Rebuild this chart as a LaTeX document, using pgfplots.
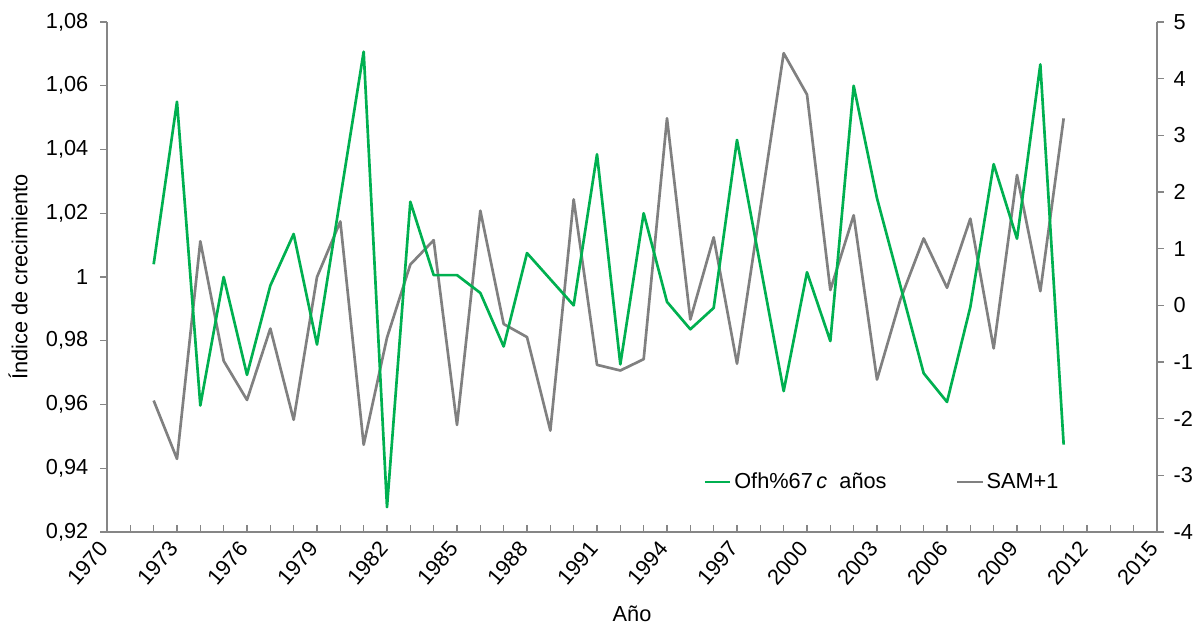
\documentclass[border=0pt]{standalone}
\usepackage{fontspec}
\setmainfont{Liberation Sans}
\usepackage{pgfplots}
\usepackage{pgfplotstable}
\pgfplotsset{compat=1.18}
\definecolor{sgreen}{RGB}{0,176,80}
\definecolor{sgray}{RGB}{128,128,128}
\definecolor{axgray}{RGB}{134,134,134}
\newcommand{\lblfont}{\fontsize{16.3}{19}\selectfont}

\pgfplotstableread{
year ofh
1972 1.004
1973 1.055
1974 0.9597
1975 1.000
1976 0.9693
1977 0.9973
1978 1.0135
1979 0.9788
1980 1.0248
1981 1.0707
1982 0.9278
1983 1.0236
1984 1.0006
1985 1.0006
1986 0.995
1987 0.9782
1988 1.0075
1989 0.9993
1990 0.9911
1991 1.0385
1992 0.9726
1993 1.020
1994 0.9922
1995 0.9836
1996 0.9903
1997 1.043
1998 1.0036
1999 0.9642
2000 1.0015
2001 0.9799
2002 1.060
2003 1.0247
2004 0.9973
2005 0.9698
2006 0.9608
2007 0.9906
2008 1.0354
2009 1.012
2010 1.0667
2011 0.9474
}\ofh

\pgfplotstableread{
year sam
1972 -1.68
1973 -2.71
1974 1.13
1975 -0.98
1976 -1.67
1977 -0.41
1978 -2.02
1979 0.50
1980 1.48
1981 -2.46
1982 -0.57
1983 0.72
1984 1.15
1985 -2.11
1986 1.67
1987 -0.33
1988 -0.56
1989 -2.21
1990 1.87
1991 -1.05
1992 -1.15
1993 -0.95
1994 3.30
1995 -0.25
1996 1.20
1997 -1.03
1998 1.71
1999 4.45
2000 3.72
2001 0.27
2002 1.59
2003 -1.31
2004 0.10
2005 1.18
2006 0.31
2007 1.53
2008 -0.76
2009 2.30
2010 0.25
2011 3.30
}\sam

\begin{document}
\begin{tikzpicture}
\useasboundingbox (-80.25pt,-75pt) rectangle (819pt,399pt);
% right axis (SAM+1)
\begin{axis}[
  at={(0pt,0pt)}, anchor=south west,
  scale only axis, width=787.5pt, height=382.5pt,
  xmin=1970, xmax=2015, ymin=-4, ymax=5,
  axis x line=none, axis y line*=right,
  axis line style={axgray, line width=1.3pt, -},
  xtick=\empty,
  ytick={-4,-3,-2,-1,0,1,2,3,4,5},
  yticklabels={-4,-3,-2,-1,0,1,2,3,4,5},
  tick align=outside, major tick length=5pt,
  tick style={axgray, line width=1pt},
  yticklabel style={font=\lblfont, xshift=4pt},
]
\addplot[sgray, line width=2pt, line join=round] table[x=year,y=sam]{\sam};
\end{axis}
% left axis (growth index)
\begin{axis}[
  at={(0pt,0pt)}, anchor=south west,
  scale only axis, width=787.5pt, height=382.5pt,
  xmin=1970, xmax=2015, ymin=0.92, ymax=1.08,
  axis x line*=bottom, axis y line*=left,
  axis line style={axgray, line width=1.3pt, -},
  xtick={1970,1973,1976,1979,1982,1985,1988,1991,1994,1997,2000,2003,2006,2009,2012,2015},
  xticklabels={1970,1973,1976,1979,1982,1985,1988,1991,1994,1997,2000,2003,2006,2009,2012,2015},
  minor xtick={1971,1972,1974,1975,1977,1978,1980,1981,1983,1984,1986,1987,1989,1990,1992,1993,1995,1996,1998,1999,2001,2002,2004,2005,2007,2008,2010,2011,2013,2014},
  ytick={0.92,0.94,0.96,0.98,1,1.02,1.04,1.06,1.08},
  yticklabels={{0,92},{0,94},{0,96},{0,98},1,{1,02},{1,04},{1,06},{1,08}},
  tick align=inside, major tick length=5pt, minor tick length=5pt,
  tick style={axgray, line width=1pt},
  ytick style={xshift=-5pt},
  xticklabel shift=7pt,
  xticklabel style={font=\lblfont, rotate=49, anchor=east},
  yticklabel style={font=\lblfont, xshift=-10.5pt},
  xlabel={Año}, ylabel={Índice de crecimiento},
  xlabel style={at={([yshift=-61.5pt]axis description cs:0.5,0)}, anchor=center, font=\lblfont},
  ylabel style={at={([xshift=-66.75pt]axis description cs:0,0.5)}, anchor=center, font=\lblfont},
  legend style={at={(axis description cs:0.568,0.098)}, anchor=west, draw=none, fill=none,
    font=\lblfont, legend columns=2, inner sep=0pt,
    /tikz/every even column/.append style={column sep=50pt}},
  legend image code/.code={\draw[#1] (0pt,0pt) -- (19pt,0pt);},
]
\addplot[sgreen, line width=2pt, line join=round] table[x=year,y=ofh]{\ofh};
\addlegendentry{Ofh\%67\,\textit{c}\ \ años}
\addlegendimage{sgray, line width=2pt}
\addlegendentry{SAM+1}
\end{axis}
\end{tikzpicture}
\end{document}
